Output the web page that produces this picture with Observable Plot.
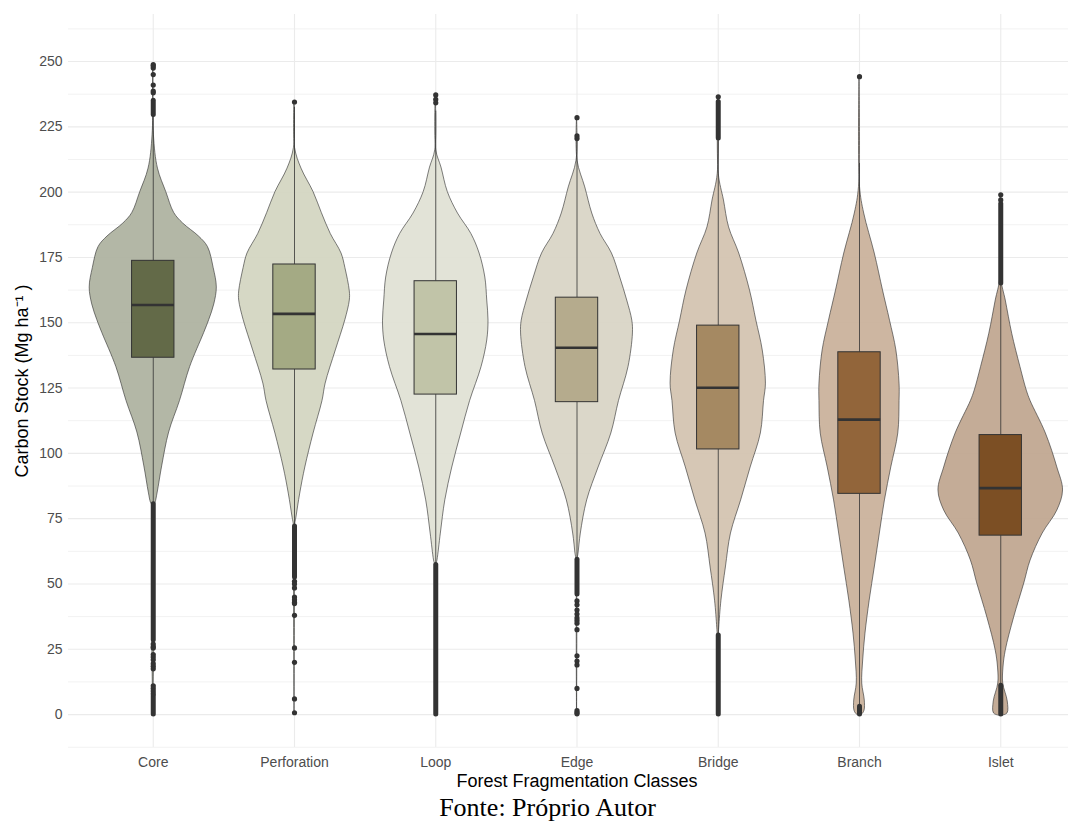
<!DOCTYPE html>
<html><head><meta charset="utf-8">
<script src="https://cdn.jsdelivr.net/npm/d3@7"></script>
<script src="https://cdn.jsdelivr.net/npm/@observablehq/plot@0.6"></script>
<style>
body{margin:0;background:#fff;}
#chart svg{display:block;}
#cap{font-family:"Liberation Serif","Times New Roman",serif;font-size:26px;line-height:27px;text-align:center;padding-left:27px;width:1068px;box-sizing:border-box;color:#000;}
</style></head><body>
<div id="chart"></div><div id="cap">Fonte: Próprio Autor</div>
<script>
const categories = ["Core","Perforation","Loop","Edge","Bridge","Branch","Islet"];
const violinFill = ["#adb19f","#d3d5c1","#e0e1d4","#d8d4c5","#d3c3af","#c9b09a","#bfa68f"];
const boxFill = ["#636a48","#a4aa84","#c1c4a8","#b5ab8d","#a58962","#92653a","#7c4f24"];

// box statistics
const q1 = [136.6,132.1,122.5,119.6,101.5,84.5,68.5];
const median = [156.8,153.4,145.7,140.4,125.1,112.9,86.7];
const q3 = [173.7,172.3,165.9,159.6,148.9,138.7,107.0];
const whiskerLow = [81,72,57.5,60,30.5,3.5,11];
const whiskerHigh = [229,232.5,231,219.5,220,211,164.5];

// violin profiles: [carbon stock, relative density]
const coreViolin = [[248.8,0],[222,0.01],[209,0.074],[200,0.205],[192,0.33],[188,0.47],[183,0.72],[179,0.86],[171,0.95],[163.5,1.0],[157,0.96],[151,0.88],[146,0.8],[133,0.58],[120,0.42],[108,0.25],[95,0.14],[85,0.07],[81,0.035],[80,0.01],[0,0]];
const perforationViolin = [[234.5,0],[217,0.008],[209,0.11],[200,0.3],[192,0.43],[184,0.57],[176.5,0.74],[171,0.8],[162,0.87],[158.5,0.87],[151,0.8],[139.4,0.65],[126.7,0.49],[120,0.44],[107.6,0.3],[94.6,0.17],[84.6,0.09],[75.4,0.03],[72,0.008],[0.7,0]];
const loopViolin = [[237.2,0],[216,0.008],[209.4,0.09],[200,0.19],[191.8,0.35],[184,0.56],[176.5,0.69],[167.3,0.78],[158.5,0.81],[150.8,0.83],[143.2,0.81],[133,0.72],[120,0.54],[107.6,0.4],[94.6,0.26],[82,0.15],[69.3,0.08],[59,0.027],[57,0.008],[0,0]];
const edgeViolin = [[228.5,0],[212,0.008],[201.8,0.13],[191.8,0.24],[184,0.37],[176.5,0.55],[167.3,0.68],[158.5,0.79],[150.8,0.87],[145.9,0.88],[133,0.81],[120,0.66],[107.6,0.54],[94.6,0.34],[82,0.16],[69.3,0.06],[61.6,0.024],[59,0.008],[0,0]];
const bridgeViolin = [[236.5,0],[207,0.008],[196.8,0.09],[186.5,0.17],[176.5,0.33],[162.3,0.5],[150.8,0.6],[139.4,0.7],[126.7,0.75],[120,0.72],[107.6,0.67],[94.6,0.51],[82,0.36],[69.3,0.2],[56.3,0.12],[43.6,0.05],[33.3,0.016],[30,0.008],[0,0]];
const branchViolin = [[244.2,0],[202,0.008],[191.8,0.074],[176.5,0.24],[162.3,0.37],[150.8,0.48],[139.4,0.58],[126.7,0.63],[120,0.63],[107.6,0.61],[94.6,0.5],[82,0.4],[69.3,0.32],[56.3,0.24],[43.6,0.16],[31,0.094],[20.7,0.058],[11.9,0.043],[5.4,0.083],[1.5,0.079],[0,0.04],[-0.3,0]];
const isletViolin = [[199,0],[167,0.008],[158.5,0.079],[145.8,0.18],[133,0.31],[124,0.41],[120,0.47],[107.6,0.71],[94.6,0.89],[85.8,0.98],[78.1,0.89],[69.3,0.66],[59,0.47],[50.2,0.37],[37.1,0.21],[24.5,0.079],[18,0.043],[11.9,0.039],[5,0.11],[0.4,0.105],[-0.5,0]];

// outliers: single points and dense runs [from, to]
const coreOutliers = [238,238.7,241,245,247.5,248.3,248.8,27,26,25.5,23,22,21,19.5,18.5,17.5,11,10,9,8];
const coreRuns = [[229.5,235],[28.5,80.5],[0,7]];
const perforationOutliers = [234.5,51,50,48.5,45,44,43,42.5,38,25.5,20,6,0.7];
const perforationRuns = [[52.5,72]];
const loopOutliers = [237.2,235.5,234.2];
const loopRuns = [[0,57.3]];
const edgeOutliers = [228.5,221.5,220.5,43.5,42,40,38.5,37,36,35,32.5,22.5,20.5,19,10,1.5,0.8,0.3];
const edgeRuns = [[46,59.3]];
const bridgeOutliers = [236.5];
const bridgeRuns = [[220.5,234.5],[0,30.3]];
const branchOutliers = [244.2];
const branchRuns = [[0,3]];
const isletOutliers = [199,197];
const isletRuns = [[165,195.5],[0,11]];

const yTicks = [0,25,50,75,100,125,150,175,200,225,250];
const yMinorTicks = [-12.5,12.5,37.5,62.5,87.5,112.5,137.5,162.5,187.5,212.5,237.5,262.5];

const profiles = [coreViolin,perforationViolin,loopViolin,edgeViolin,bridgeViolin,branchViolin,isletViolin];
const outlierLists = [coreOutliers,perforationOutliers,loopOutliers,edgeOutliers,bridgeOutliers,branchOutliers,isletOutliers];
const runLists = [coreRuns,perforationRuns,loopRuns,edgeRuns,bridgeRuns,branchRuns,isletRuns];
const idx = categories.map((_, i) => i);

const violinRows = profiles.flatMap((p, i) => p.map(([y, d]) => ({i, y, d})));
const boxRows = idx.map(i => ({i, q1: q1[i], med: median[i], q3: q3[i], lo: whiskerLow[i], hi: whiskerHigh[i]}));
const pointRows = outlierLists.flatMap((l, i) => l.map(y => ({i, y})));
const runRows = runLists.flatMap((l, i) => l.map(([a, b]) => ({i, a, b})));

const halfViolin = 0.45, halfBox = 0.15;

const chart = Plot.plot({
  width: 1068, height: 794,
  marginLeft: 68, marginRight: -17, marginTop: 14, marginBottom: 47,
  style: {color: "#4d4d4d", fontFamily: "'Liberation Sans', Arial, sans-serif", background: "#fff"},
  x: {domain: [-0.6, 6.6], axis: null},
  y: {domain: [-12.6, 268], axis: null},
  color: {type: "identity"},
  marks: [
    Plot.gridY(yMinorTicks, {stroke: "#f2f2f2", strokeOpacity: 1, strokeWidth: 1}),
    Plot.gridY(yTicks, {stroke: "#ebebeb", strokeOpacity: 1, strokeWidth: 1.1}),
    Plot.gridX(idx, {stroke: "#ebebeb", strokeOpacity: 1, strokeWidth: 1.1}),
    Plot.areaX(violinRows, {
      y: "y",
      x1: r => r.i - halfViolin * r.d,
      x2: r => r.i + halfViolin * r.d,
      z: "i",
      fill: r => violinFill[r.i],
      fillOpacity: 0.93,
      stroke: "#333", strokeWidth: 0.7, strokeOpacity: 0.9,
      curve: "catmull-rom"
    }),
    Plot.ruleX(boxRows, {x: "i", y1: "lo", y2: "q1", stroke: "#333", strokeWidth: 0.8}),
    Plot.ruleX(boxRows, {x: "i", y1: "q3", y2: "hi", stroke: "#333", strokeWidth: 0.8}),
    Plot.rect(boxRows, {
      x1: r => r.i - halfBox, x2: r => r.i + halfBox,
      y1: "q1", y2: "q3",
      fill: r => boxFill[r.i], stroke: "#333", strokeWidth: 1
    }),
    Plot.ruleY(boxRows, {x1: r => r.i - halfBox, x2: r => r.i + halfBox, y: "med", stroke: "#333", strokeWidth: 2.6}),
    Plot.ruleX(runRows, {x: "i", y1: "a", y2: "b", stroke: "#333", strokeWidth: 5, strokeLinecap: "round"}),
    Plot.dot(pointRows, {x: "i", y: "y", r: 2.6, fill: "#333", stroke: "none"}),
    Plot.axisY(yTicks, {tickSize: 0, tickPadding: 6, fontSize: 14, fill: "#4d4d4d"}),
    Plot.axisX(idx, {tickSize: 0, tickPadding: 10, fontSize: 14, fill: "#4d4d4d", tickFormat: i => categories[i], label: null}),
    Plot.text(["Carbon Stock (Mg ha⁻¹ )"], {text: d => d, frameAnchor: "left", textAnchor: "middle", lineAnchor: "middle", dx: -46, rotate: -90, fontSize: 18, fill: "#000"}),
    Plot.text(["Forest Fragmentation Classes"], {text: d => d, frameAnchor: "bottom", textAnchor: "middle", lineAnchor: "middle", dy: 34, fontSize: 18, fill: "#000"})
  ]
});
document.getElementById("chart").appendChild(chart);
</script></body></html>
